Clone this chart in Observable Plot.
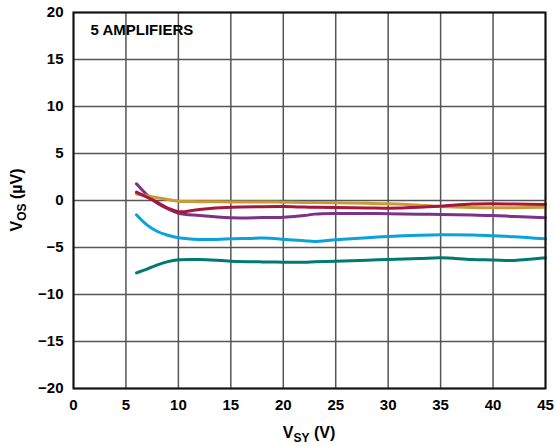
<!DOCTYPE html>
<html><head><meta charset="utf-8">
<script src="https://cdn.jsdelivr.net/npm/d3@7"></script>
<script src="https://cdn.jsdelivr.net/npm/@observablehq/plot@0.6"></script>
<style>body{margin:0;background:#fff}</style>
</head><body><div id="chart"></div>
<script>
const vsy = [6, 7, 8, 9, 10, 12, 15, 18, 20, 22, 23, 25, 28, 30, 33, 35, 38, 40, 42, 45];
const teal   = [-7.7, -7.3, -6.85, -6.5, -6.31, -6.28, -6.45, -6.53, -6.56, -6.56, -6.52, -6.45, -6.35, -6.28, -6.18, -6.1, -6.28, -6.32, -6.38, -6.1];
const blue   = [-1.52, -2.6, -3.3, -3.7, -3.97, -4.15, -4.08, -4.0, -4.11, -4.28, -4.36, -4.18, -3.95, -3.83, -3.7, -3.65, -3.68, -3.76, -3.85, -4.08];
const purple = [1.77, 0.6, -0.3, -0.9, -1.35, -1.6, -1.84, -1.82, -1.77, -1.6, -1.45, -1.38, -1.38, -1.4, -1.45, -1.49, -1.55, -1.6, -1.7, -1.84];
const gold   = [0.7, 0.5, 0.3, 0.1, -0.07, -0.12, -0.15, -0.15, -0.18, -0.2, -0.22, -0.25, -0.3, -0.35, -0.5, -0.64, -0.75, -0.78, -0.76, -0.71];
const red    = [0.9, 0.35, -0.2, -0.8, -1.2, -0.95, -0.72, -0.66, -0.65, -0.7, -0.72, -0.75, -0.8, -0.82, -0.72, -0.6, -0.38, -0.35, -0.38, -0.43];
const seriesNames = ["Amp 1", "Amp 2", "Amp 3", "Amp 4", "Amp 5"];
const seriesValues = [teal, blue, purple, gold, red];
const seriesColors = ["#007a70", "#0aa2da", "#7b3287", "#c99b37", "#a5173f"];
const xTicks = [0, 5, 10, 15, 20, 25, 30, 35, 40, 45];
const yTicks = [-20, -15, -10, -5, 0, 5, 10, 15, 20];
const annotation = "5 AMPLIFIERS";

const rows = [];
seriesNames.forEach((s, i) => vsy.forEach((x, j) => rows.push({s, x, y: seriesValues[i][j]})));

const chart = Plot.plot({
  width: 556, height: 446,
  marginLeft: 73, marginRight: 11, marginTop: 12, marginBottom: 58,
  style: {fontFamily: "'Liberation Sans', Arial, sans-serif", fontSize: "15px", fontWeight: "bold", background: "white", color: "black"},
  x: {domain: [0, 45]},
  y: {domain: [-20, 20]},
  color: {domain: seriesNames, range: seriesColors},
  marks: [
    Plot.gridX(xTicks, {stroke: "#555", strokeOpacity: 1, strokeWidth: 1.5}),
    Plot.gridY(yTicks, {stroke: "#555", strokeOpacity: 1, strokeWidth: 1.5}),
    Plot.axisX(xTicks, {tickSize: 0, tickPadding: 11, label: null, fontWeight: "bold"}),
    Plot.axisY(yTicks, {tickSize: 0, tickPadding: 10, label: null, fontWeight: "bold"}),
    Plot.line(rows, {x: "x", y: "y", z: "s", stroke: "s", strokeWidth: 3, curve: "catmull-rom"}),
    Plot.frame({stroke: "#111", strokeWidth: 2}),
    Plot.text([annotation], {frameAnchor: "top-left", dx: 17, dy: 12, fontSize: 15, fontWeight: "bold", fill: "black"})
  ]
});

const svg = d3.select(chart);
const xt = svg.append("text").attr("x", 309).attr("y", 438).attr("text-anchor", "middle")
  .style("font-size", "16px").style("font-weight", "bold");
xt.append("tspan").text("V");
xt.append("tspan").attr("dy", 4).style("font-size", "12px").text("SY");
xt.append("tspan").attr("dy", -4).text(" (V)");

const yt = svg.append("text").attr("transform", "translate(22,200) rotate(-90)").attr("text-anchor", "middle")
  .style("font-size", "16px").style("font-weight", "bold");
yt.append("tspan").text("V");
yt.append("tspan").attr("dy", 4).style("font-size", "12px").text("OS");
yt.append("tspan").attr("dy", -4).text(" (\u00b5V)");

document.getElementById("chart").appendChild(chart);
</script>
</body></html>
